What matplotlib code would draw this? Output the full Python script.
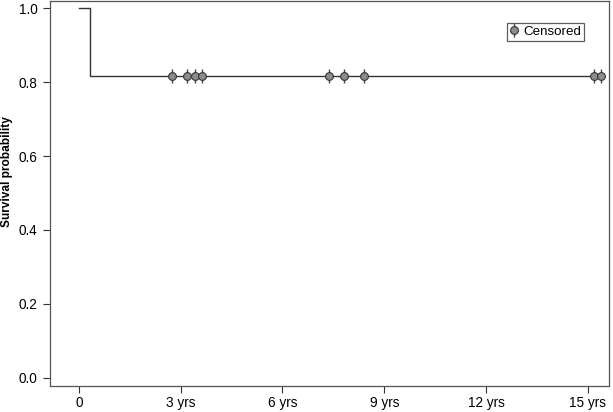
import matplotlib
matplotlib.use("Agg")
import matplotlib.pyplot as plt
from matplotlib.lines import Line2D

plt.rcParams['font.family'] = ['Liberation Sans', 'DejaVu Sans']

# Kaplan-Meier step data (years, survival)
step_times = [0.0, 0.32, 15.39]
step_surv = [1.0, 0.818, 0.818]
# censored observations (years)
censor_times = [2.75, 3.20, 3.42, 3.63, 7.37, 7.80, 8.39, 15.18, 15.39]
censor_surv = [0.818] * len(censor_times)

xticks = [0, 3, 6, 9, 12, 15]
xtick_labels = ["0", "3 yrs", "6 yrs", "9 yrs", "12 yrs", "15 yrs"]
yticks = [0.0, 0.2, 0.4, 0.6, 0.8, 1.0]
ytick_labels = ["0.0", "0.2", "0.4", "0.6", "0.8", "1.0"]

fig = plt.figure(figsize=(6.13, 4.12), dpi=100)
ax = fig.add_axes([50/613, 1 - 386/412, (609-50)/613, (386-1)/412])

ax.step(step_times, step_surv, where='post', color='#333333', lw=1.0)
ax.plot(censor_times, censor_surv, linestyle='none', marker='|', markersize=10,
        markeredgewidth=1.0, color='#444444', zorder=3)
ax.plot(censor_times, censor_surv, linestyle='none', marker='o', markersize=5.6,
        markerfacecolor='#8c8c8c', markeredgecolor='#333333', markeredgewidth=0.8, zorder=4)

ax.set_xlim(-0.85, 15.62)
ax.set_ylim(-0.0225, 1.02)
ax.set_xticks(xticks)
ax.set_xticklabels(xtick_labels)
ax.set_yticks(yticks)
ax.set_yticklabels(ytick_labels)
ax.tick_params(direction='out', length=5, width=0.8, colors='#333333', labelsize=9.8,
               labelcolor='black')
ax.tick_params(axis='x', pad=2.5)
ax.tick_params(axis='y', pad=4)
for s in ax.spines.values():
    s.set_color('#555555')
    s.set_linewidth(0.9)

fig.text(7.5/613, 1 - 172/412, 'Survival probability', rotation=90, ha='center', va='center',
         fontsize=8.6, fontweight='bold')

handle = (Line2D([], [], linestyle='none', marker='|', markersize=10, markeredgewidth=1.0, color='#444444'),
          Line2D([], [], linestyle='none', marker='o', markersize=5.6, markerfacecolor='#8c8c8c',
                 markeredgecolor='#333333', markeredgewidth=0.8))
leg = ax.legend([handle], ['Censored'], loc='upper right', bbox_to_anchor=(0.955, 0.943),
                fontsize=9.6, frameon=True, fancybox=False, handlelength=0.6,
                handletextpad=0.4, borderpad=0.2, borderaxespad=0)
leg.get_frame().set_edgecolor('#333333')
leg.get_frame().set_linewidth(0.9)

fig.savefig('out.png', dpi=100)
